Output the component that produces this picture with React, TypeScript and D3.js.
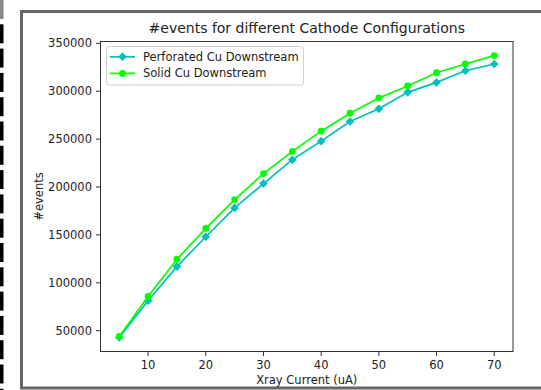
import React from "react";
import * as d3 from "d3";

// X-ray tube current (uA)
const currents = [5, 10, 15, 20, 25, 30, 35, 40, 45, 50, 55, 60, 65, 70];
// Number of recorded events per cathode configuration
const perforatedEvents = [43000, 81200, 116900, 148100, 178200, 203600, 228500, 247900, 268400, 281600, 298800, 309200, 321400, 328400];
const solidEvents = [44000, 85700, 124600, 156800, 186900, 214000, 237200, 258300, 277000, 293000, 305500, 319300, 328400, 337200];

const xTicks = [10, 20, 30, 40, 50, 60, 70];
const yTicks = [50000, 100000, 150000, 200000, 250000, 300000, 350000];

const seriesNames = ["Perforated Cu Downstream", "Solid Cu Downstream"];
const seriesColors = ["#00bfbf", "#00ff00"];

const W = 541;
const H = 390;
const plot = { left: 100.5, right: 513, top: 41.5, bottom: 351.5 };
const FONT = "DejaVu Sans, sans-serif";
const FS = 11.5;

function padded(values: number[]): [number, number] {
  const [lo, hi] = d3.extent(values) as [number, number];
  const m = (hi - lo) * 0.05;
  return [lo - m, hi + m];
}

export default function App() {
  const x = d3.scaleLinear().domain(padded(currents)).range([plot.left, plot.right]);
  const y = d3
    .scaleLinear()
    .domain(padded([...perforatedEvents, ...solidEvents]))
    .range([plot.bottom, plot.top]);

  const line = d3
    .line<number>()
    .x((_, i) => x(currents[i]))
    .y((v) => y(v));

  const fmt = d3.format("d");
  const diamond = (cx: number, cy: number, r: number) =>
    `M${cx},${cy - r}L${cx + r},${cy}L${cx},${cy + r}L${cx - r},${cy}Z`;

  // left edge dashes
  const dashes = d3.range(0, 17).map((i) => i * 24.3);

  return (
    <svg
      width={W}
      height={H}
      style={{ position: "absolute", left: 0, top: 0, background: "#fff" }}
      fontFamily={FONT}
    >
      <rect x={0} y={0} width={W} height={H} fill="#fff" />
      {dashes.map((d, i) => (
        <rect key={i} x={0} y={d} width={3.5} height={19} fill={i === 0 ? "#888" : "#000"} />
      ))}
      {/* figure frame */}
      <rect x={21.5} y={11.5} width={W} height={376.5} fill="#fff" stroke="#666" strokeWidth={3} />

      {/* title */}
      <text x={(plot.left + plot.right) / 2} y={33} textAnchor="middle" fontSize={14} fill="#222">
        #events for different Cathode Configurations
      </text>

      {/* series */}
      <path d={line(perforatedEvents) || ""} fill="none" stroke={seriesColors[0]} strokeWidth={1.7} />
      {perforatedEvents.map((v, i) => (
        <path key={"p" + i} d={diamond(x(currents[i]), y(v), 4.3)} fill={seriesColors[0]} />
      ))}
      <path d={line(solidEvents) || ""} fill="none" stroke={seriesColors[1]} strokeWidth={1.7} />
      {solidEvents.map((v, i) => (
        <circle key={"s" + i} cx={x(currents[i])} cy={y(v)} r={3.4} fill={seriesColors[1]} />
      ))}

      {/* axes frame */}
      <rect
        x={plot.left}
        y={plot.top}
        width={plot.right - plot.left}
        height={plot.bottom - plot.top}
        fill="none"
        stroke="#333"
        strokeWidth={1}
      />

      {/* x ticks */}
      {xTicks.map((t) => (
        <g key={"x" + t}>
          <line x1={x(t)} x2={x(t)} y1={plot.bottom} y2={plot.bottom + 4.5} stroke="#333" />
          <text x={x(t)} y={369} textAnchor="middle" fontSize={FS} fill="#222">
            {t}
          </text>
        </g>
      ))}
      {/* y ticks */}
      {yTicks.map((t) => (
        <g key={"y" + t}>
          <line x1={plot.left - 4.5} x2={plot.left} y1={y(t)} y2={y(t)} stroke="#333" />
          <text x={92} y={y(t) + 4} textAnchor="end" fontSize={FS} fill="#222">
            {fmt(t)}
          </text>
        </g>
      ))}

      <text x={(plot.left + plot.right) / 2} y={384} textAnchor="middle" fontSize={FS} fill="#222">
        Xray Current (uA)
      </text>
      <text
        transform={`translate(43, ${(plot.top + plot.bottom) / 2}) rotate(-90)`}
        textAnchor="middle"
        fontSize={FS}
        fill="#222"
      >
        #events
      </text>

      {/* legend */}
      <rect x={106.5} y={46.5} width={197} height={38.5} rx={3} fill="#fff" fillOpacity={0.8} stroke="#d0d0d0" />
      {seriesNames.map((name, i) => {
        const cy = 56.8 + i * 16.6;
        return (
          <g key={name}>
            <line x1={110} x2={135} y1={cy} y2={cy} stroke={seriesColors[i]} strokeWidth={1.7} />
            {i === 0 ? (
              <path d={diamond(122.5, cy, 4.3)} fill={seriesColors[i]} />
            ) : (
              <circle cx={122.5} cy={cy} r={3.4} fill={seriesColors[i]} />
            )}
            <text x={143} y={cy + 4} fontSize={FS} fill="#222">
              {name}
            </text>
          </g>
        );
      })}
    </svg>
  );
}
